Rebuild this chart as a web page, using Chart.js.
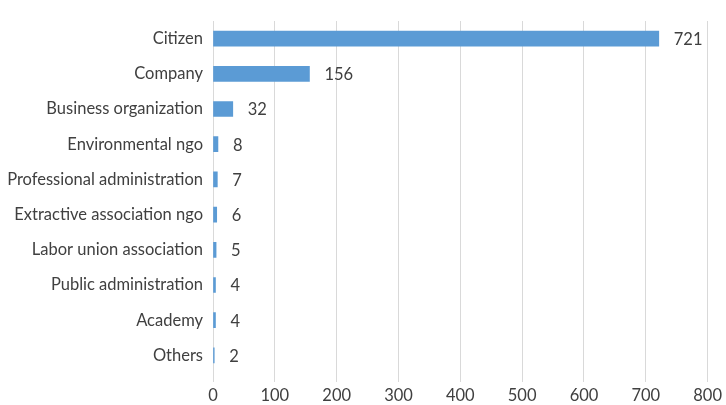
<!DOCTYPE html>
<html>
<head>
<meta charset="utf-8">
<script src="https://cdn.jsdelivr.net/npm/chart.js@4"></script>
<style>
  html, body { margin: 0; padding: 0; background: #fff; }
  #wrap { width: 726px; height: 405px; }
</style>
</head>
<body>
<div id="wrap"><canvas id="myChart"></canvas></div>
<script>
// data
const categories = ['Citizen', 'Company', 'Business organization', 'Environmental ngo',
  'Professional administration', 'Extractive association ngo', 'Labor union association',
  'Public administration', 'Academy', 'Others'];
const counts = [721, 156, 32, 8, 7, 6, 5, 4, 4, 2];
const xTicks = [0, 100, 200, 300, 400, 500, 600, 700, 800];

const textColor = '#404040';
const fontFamily = 'Lato, "Open Sans", sans-serif';

// simple value labels at the bar ends
const valueLabels = {
  id: 'valueLabels',
  afterDatasetsDraw(chart) {
    const ctx = chart.ctx;
    const meta = chart.getDatasetMeta(0);
    ctx.save();
    ctx.font = '16.5px ' + fontFamily;
    ctx.fillStyle = textColor;
    ctx.textAlign = 'left';
    ctx.textBaseline = 'middle';
    meta.data.forEach((bar, i) => {
      ctx.fillText(String(counts[i]), bar.x + 15, bar.y + 1);
    });
    ctx.restore();
  }
};

const data = {
  labels: categories,
  datasets: [{
    data: counts,
    backgroundColor: '#5B9BD5',
    barThickness: 15
  }]
};

const config = {
  type: 'bar',
  data,
  options: {
    indexAxis: 'y',
    responsive: true,
    maintainAspectRatio: false,
    animation: false,
    layout: { padding: { top: 21, right: 17, left: 0, bottom: 0 } },
    scales: {
      x: {
        min: 0,
        max: 800,
        afterBuildTicks: (scale) => { scale.ticks = xTicks.map(v => ({ value: v })); },
        afterFit: (scale) => { scale.height = 32; },
        grid: { color: '#d9d9d9', lineWidth: 1, drawTicks: true, tickLength: 9, tickColor: '#d9d9d9' },
        border: { display: false },
        ticks: { color: textColor, font: { family: fontFamily, size: 16.5 }, padding: 4 }
      },
      y: {
        grid: { display: false, drawTicks: false },
        border: { display: false },
        afterFit: (scale) => { scale.width = 213; },
        ticks: { color: textColor, font: { family: fontFamily, size: 16.5 }, padding: 10 }
      }
    },
    plugins: {
      legend: { display: false },
      tooltip: { enabled: false }
    }
  },
  plugins: [valueLabels]
};

const myChart = new Chart(document.getElementById('myChart'), config);
</script>
</body>
</html>
